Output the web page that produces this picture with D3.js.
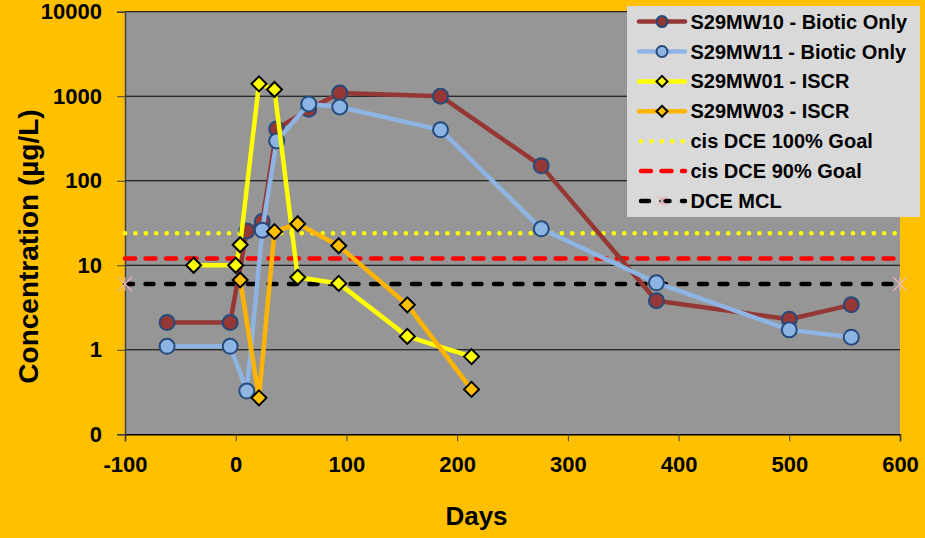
<!DOCTYPE html>
<html>
<head>
<meta charset="utf-8">
<script src="https://cdn.jsdelivr.net/npm/d3@7"></script>
<style>
  html, body { margin: 0; padding: 0; background: #FFC000; }
  svg { display: block; }
  text { font-family: "Liberation Sans", Arial, sans-serif; font-weight: bold; fill: #000; }
</style>
</head>
<body>
<svg id="chart" width="925" height="538"></svg>
<script>
// Sampling days and concentrations (µg/L) per well
const bioticDays = [-62, -5, 10, 24, 37, 66, 94, 185, 276, 380, 500, 556];
const mw10Values = [2.1, 2.1, 25.5, 33, 410, 700, 1090, 1000, 150, 3.8, 2.3, 3.4];
const mw11Values = [1.1, 1.1, 0.325, 26, 296, 810, 745, 400, 27, 6.2, 1.72, 1.41];

const mw01Days = [-38, 0, 4, 21, 35, 56, 93, 155, 213];
const mw01Values = [10, 10, 17.5, 1400, 1200, 7.2, 6.1, 1.44, 0.83];

const mw03Days = [4, 21, 35, 56, 93, 155, 213];
const mw03Values = [6.7, 0.27, 25, 31, 17, 3.4, 0.34];

// Reference levels (µg/L), drawn across the full time span
const goalDays = [-100, 600];
const goal100Value = 24;
const goal90Value = 12;
const mclValue = 6;

// Axis ticks
const xTickValues = [-100, 0, 100, 200, 300, 400, 500, 600];
const xTickLabels = ["-100", "0", "100", "200", "300", "400", "500", "600"];
const yTickValues = [0.1, 1, 10, 100, 1000, 10000];
const yTickLabels = ["0", "1", "10", "100", "1000", "10000"];

const seriesNames = [
  "S29MW10 - Biotic Only",
  "S29MW11 - Biotic Only",
  "S29MW01 - ISCR",
  "S29MW03 - ISCR",
  "cis DCE 100% Goal",
  "cis DCE 90% Goal",
  "DCE MCL"
];

const svg = d3.select("#chart");
const W = 925, H = 538;
const plot = { left: 125, right: 900, top: 11.7, bottom: 434.3 };

svg.append("rect").attr("width", W).attr("height", H).attr("fill", "#FFC000");

const x = d3.scaleLinear().domain([-100, 600]).range([plot.left, plot.right]);
const y = d3.scaleLog().domain([0.1, 10000]).range([plot.bottom, plot.top]);

// Plot area
svg.append("rect")
  .attr("x", plot.left).attr("y", plot.top)
  .attr("width", plot.right - plot.left).attr("height", plot.bottom - plot.top)
  .attr("fill", "#969696");

// Horizontal gridlines at each decade
svg.append("g").selectAll("line").data(yTickValues.slice(1)).join("line")
  .attr("x1", plot.left).attr("x2", plot.right)
  .attr("y1", d => y(d)).attr("y2", d => y(d))
  .attr("stroke", "#000").attr("stroke-width", 1);

// Axes
const xAxis = svg.append("g")
  .attr("transform", `translate(0,${plot.bottom})`)
  .call(d3.axisBottom(x).tickValues(xTickValues).tickSize(7).tickPadding(15)
    .tickFormat((d, i) => xTickLabels[i]));
xAxis.select(".domain").attr("stroke", "#000").attr("stroke-width", 1.5);
xAxis.selectAll(".tick line").attr("stroke", "#404040");
xAxis.selectAll("text").attr("font-size", 22).attr("fill", "#000")
  .style("font-family", "'Liberation Sans', Arial, sans-serif").style("font-weight", "bold");

const yAxis = svg.append("g")
  .attr("transform", `translate(${plot.left},0)`)
  .call(d3.axisLeft(y).tickValues(yTickValues).tickSize(8).tickPadding(15)
    .tickFormat((d, i) => yTickLabels[i]));
yAxis.select(".domain").attr("stroke", "#404040").attr("stroke-width", 1.5);
yAxis.selectAll(".tick line").attr("stroke", "#404040");
yAxis.selectAll("text").attr("font-size", 22).attr("fill", "#000")
  .style("font-family", "'Liberation Sans', Arial, sans-serif").style("font-weight", "bold");

// Axis titles
svg.append("text")
  .attr("transform", "translate(38,246.5) rotate(-90)")
  .attr("text-anchor", "middle").attr("font-size", 28)
  .text("Concentration (µg/L)");
svg.append("text")
  .attr("x", 476.5).attr("y", 525)
  .attr("text-anchor", "middle").attr("font-size", 26)
  .text("Days");

// Line styles
const styles = {
  goal100: { stroke: "#FFFF00", width: 4.5, dash: "0.1,10.3", cap: "round" },
  goal90:  { stroke: "#FF0000", width: 4.5, dash: "10,10.5", cap: "round" },
  mcl:     { stroke: "#000000", width: 4.5, dash: "8,12.5", cap: "round" }
};

const line = d3.line().x(d => x(d[0])).y(d => y(d[1]));

function drawLevel(value, st) {
  svg.append("path")
    .datum(goalDays.map(d => [d, value]))
    .attr("d", line)
    .attr("fill", "none")
    .attr("stroke", st.stroke)
    .attr("stroke-width", st.width)
    .attr("stroke-dasharray", st.dash)
    .attr("stroke-linecap", st.cap);
}
drawLevel(goal100Value, styles.goal100);
drawLevel(goal90Value, styles.goal90);
drawLevel(mclValue, styles.mcl);

// Star markers on the MCL level
function star(g, cx, cy, r) {
  g.append("path")
    .attr("d", `M${cx - r},${cy - r}L${cx + r},${cy + r}M${cx - r},${cy + r}L${cx + r},${cy - r}M${cx},${cy - r}L${cx},${cy + r}`)
    .attr("stroke", "#E6B9B8").attr("stroke-width", 1.2).attr("fill", "none");
}
const mclG = svg.append("g");
goalDays.forEach(d => star(mclG, x(d), y(mclValue), 7));

// Data series
const series = [
  { days: bioticDays, values: mw10Values, color: "#953735", marker: "circle", fill: "#953735" },
  { days: bioticDays, values: mw11Values, color: "#8EB4E3", marker: "circle", fill: "#8EB4E3" },
  { days: mw01Days, values: mw01Values, color: "#FFFF00", marker: "diamond", fill: "#FFFF00" },
  { days: mw03Days, values: mw03Values, color: "#FFB400", marker: "diamond", fill: "#FFC000" }
];

function drawMarker(g, type, cx, cy, fill, size) {
  if (type === "circle") {
    g.append("circle").attr("cx", cx).attr("cy", cy).attr("r", size)
      .attr("fill", fill).attr("stroke", "#254A7C").attr("stroke-width", 2);
  } else {
    const s = size;
    g.append("path")
      .attr("d", `M${cx},${cy - s}L${cx + s},${cy}L${cx},${cy + s}L${cx - s},${cy}Z`)
      .attr("fill", fill).attr("stroke", "#000").attr("stroke-width", 2)
      .attr("stroke-linejoin", "miter");
  }
}

series.forEach(s => {
  const pts = s.days.map((d, i) => [d, s.values[i]]);
  const g = svg.append("g");
  g.append("path").datum(pts).attr("d", line)
    .attr("fill", "none").attr("stroke", s.color).attr("stroke-width", 4.5)
    .attr("stroke-linejoin", "round");
  pts.forEach(p => drawMarker(g, s.marker, x(p[0]), y(p[1]), s.fill, s.marker === "circle" ? 7.5 : 7.5));
});

// Legend
const legend = svg.append("g");
legend.append("rect").attr("x", 627).attr("y", 6).attr("width", 293).attr("height", 211)
  .attr("fill", "#D9D9D9");
const rowY = i => 21.6 + i * 29.9;
const lx1 = 639, lx2 = 685, lmid = 662;

seriesNames.forEach((name, i) => {
  const cy = rowY(i);
  if (i < 4) {
    const s = series[i];
    legend.append("line").attr("x1", lx1).attr("x2", lx2).attr("y1", cy).attr("y2", cy)
      .attr("stroke", s.color).attr("stroke-width", 4.5).attr("stroke-linecap", "round");
    drawMarker(legend, s.marker, lmid, cy, s.fill, 5.5);
  } else {
    const st = [styles.goal100, styles.goal90, styles.mcl][i - 4];
    legend.append("line").attr("x1", lx1 + 2).attr("x2", lx2).attr("y1", cy).attr("y2", cy)
      .attr("stroke", st.stroke).attr("stroke-width", st.width)
      .attr("stroke-dasharray", st.dash).attr("stroke-linecap", st.cap);
    if (i === 6) star(legend, lmid, cy, 5);
  }
  legend.append("text").attr("x", 690.5).attr("y", cy + 7)
    .attr("font-size", 20).text(name);
});
</script>
</body>
</html>
